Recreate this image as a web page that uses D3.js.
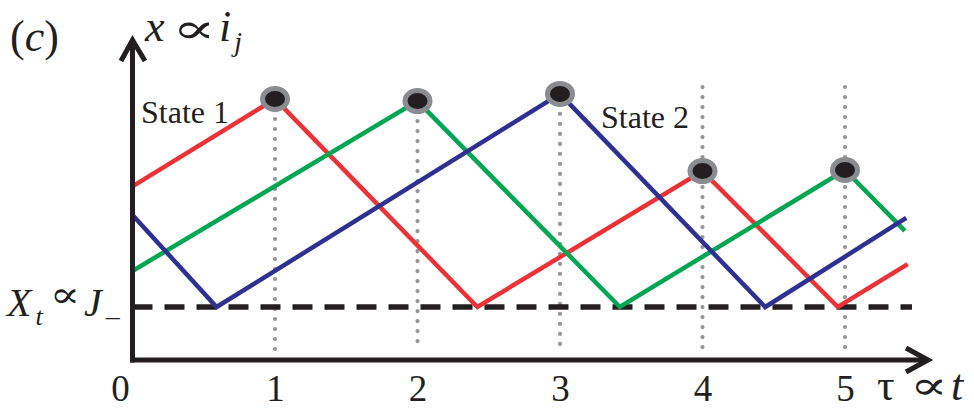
<!DOCTYPE html>
<html>
<head>
<meta charset="utf-8">
<script src="https://cdn.jsdelivr.net/npm/d3@7"></script>
<style>
  html, body { margin: 0; padding: 0; background: #fff; }
  svg { display: block; }
  text { font-family: "Liberation Serif", "Times New Roman", "DejaVu Serif", serif; fill: #231f20; }
</style>
</head>
<body>
<svg id="chart" width="974" height="411"></svg>
<script>
// Time ticks along the horizontal axis
const tickValues = [0, 1, 2, 3, 4, 5];
const tickLabels = ["0", "1", "2", "3", "4", "5"];

// Three zigzag trajectories: vertex times (tau) and heights (x)
const redTau   = [0, 1, 2.42, 4, 4.95, 5.44];
const redX     = [6.55, 9.85, 2, 7.13, 2, 3.62];
const greenTau = [0, 2, 3.42, 5, 5.42];
const greenX   = [3.36, 9.77, 2, 7.17, 4.87];
const blueTau  = [0, 0.59, 3, 4.44, 5.43];
const blueX    = [5.47, 2, 10.04, 2, 5.36];

// Switching events (peaks) marked with dots
const peakTau = [1, 2, 3, 4, 5];
const peakX   = [9.85, 9.77, 10.04, 7.13, 7.17];
const guideTop = [9.85, 9.77, 10.04, 10.3, 10.3];

// Threshold level X_t
const threshold = 2;

const svg = d3.select("#chart");
const x = d3.scaleLinear().domain([0, 5]).range([132.5, 845]);
const y = d3.scaleLinear().domain([0, 10]).range([360, 95]);
const ink = "#231f20";
const serif = '"Liberation Serif", "Times New Roman", "DejaVu Serif", serif';
const symbolFont = '"DejaVu Serif", serif';

// Dotted guide lines at each event time
svg.append("g").selectAll("line").data(peakTau).join("line")
  .attr("x1", d => x(d)).attr("x2", d => x(d))
  .attr("y1", (d, i) => y(guideTop[i])).attr("y2", y(0.4))
  .attr("stroke", "#939598").attr("stroke-width", 4.2)
  .attr("stroke-linecap", "round").attr("stroke-dasharray", "0,10");

// Dashed threshold line
svg.append("line")
  .attr("x1", x(0)).attr("x2", x(5.47))
  .attr("y1", y(threshold)).attr("y2", y(threshold))
  .attr("stroke", ink).attr("stroke-width", 5.5)
  .attr("stroke-dasharray", "20,12");

// Trajectories
const line = d3.line().x(d => x(d[0])).y(d => y(d[1]));
const series = [
  { tau: redTau, val: redX, color: "#ed3237" },
  { tau: greenTau, val: greenX, color: "#00a651" },
  { tau: blueTau, val: blueX, color: "#2e3192" }
];
svg.append("g").selectAll("path").data(series).join("path")
  .attr("d", s => line(s.tau.map((t, i) => [t, s.val[i]])))
  .attr("fill", "none").attr("stroke", s => s.color)
  .attr("stroke-width", 4.5).attr("stroke-linejoin", "miter");

// Event markers
svg.append("g").selectAll("ellipse").data(peakTau).join("ellipse")
  .attr("cx", d => x(d)).attr("cy", (d, i) => y(peakX[i]))
  .attr("rx", 12.5).attr("ry", 10.5)
  .attr("fill", ink).attr("stroke", "#8a8c8f").attr("stroke-width", 5);

// Axes with open arrowheads
const axes = svg.append("g").attr("stroke", ink).attr("stroke-width", 5).attr("fill", "none");
axes.append("line").attr("x1", x(0)).attr("x2", x(0)).attr("y1", y(0) + 2.5).attr("y2", 40);
axes.append("polyline").attr("points", [[121, 61], [x(0), 40], [145, 61]].join(" "));
axes.append("line").attr("x1", x(0) - 2.5).attr("x2", 928).attr("y1", y(0)).attr("y2", y(0));
axes.append("polyline").attr("points", [[906, 348], [928, y(0)], [906, 372]].join(" "));

// Tick labels
const xAxis = d3.axisBottom(x).tickValues(tickValues)
  .tickFormat((d, i) => tickLabels[i]).tickSize(0).tickPadding(0);
const gx = svg.append("g").attr("transform", `translate(0,${y(0)})`).call(xAxis);
gx.select(".domain").remove();
gx.attr("font-family", serif);
gx.selectAll("text")
  .attr("y", 41).attr("dy", null)
  .style("font-family", serif)
  .style("font-size", "37px").attr("fill", ink)
  .attr("dx", d => d === 0 ? -12.5 : 0);

// Wide "proportional to" sign, stretched horizontally
function propto(cx, baseline, size, sx) {
  svg.append("text")
    .attr("transform", `translate(${cx},${baseline}) scale(${sx},1)`)
    .attr("text-anchor", "middle")
    .style("font-family", symbolFont).style("font-size", size + "px")
    .text("∝");
}

// Annotations
svg.append("text").attr("x", 10).attr("y", 51).style("font-size", "44px")
  .html('(<tspan font-style="italic">c</tspan>)');

svg.append("text").attr("x", 145).attr("y", 41).style("font-size", "44px")
  .attr("font-style", "italic").text("x");
propto(194, 43, 42, 1.55);
const yi = svg.append("text").attr("x", 219).attr("y", 41).style("font-size", "44px").attr("font-style", "italic");
yi.append("tspan").text("i");
yi.append("tspan").attr("dx", 3).attr("dy", 10).style("font-size", "28px").text("j");

const tl = svg.append("text").attr("x", 7).attr("y", 316).style("font-size", "40px");
tl.append("tspan").attr("font-style", "italic").text("X");
tl.append("tspan").attr("font-style", "italic").attr("dx", 4).attr("dy", 9).style("font-size", "26px").text("t");
propto(65, 307, 36, 1.25);
const tj = svg.append("text").attr("x", 84).attr("y", 316).style("font-size", "40px");
tj.append("tspan").attr("font-style", "italic").text("J");
tj.append("tspan").attr("dx", 4).attr("dy", 9).style("font-size", "28px").text("–");

svg.append("text").attr("x", 877).attr("y", 400).style("font-size", "44px").text("τ");
propto(929, 399, 40, 1.4);
svg.append("text").attr("x", 951).attr("y", 400).style("font-size", "44px")
  .attr("font-style", "italic").text("t");

svg.append("text").attr("x", 141).attr("y", 123).style("font-size", "32px").text("State 1");
svg.append("text").attr("x", 601).attr("y", 128).style("font-size", "32px").text("State 2");
</script>
</body>
</html>
